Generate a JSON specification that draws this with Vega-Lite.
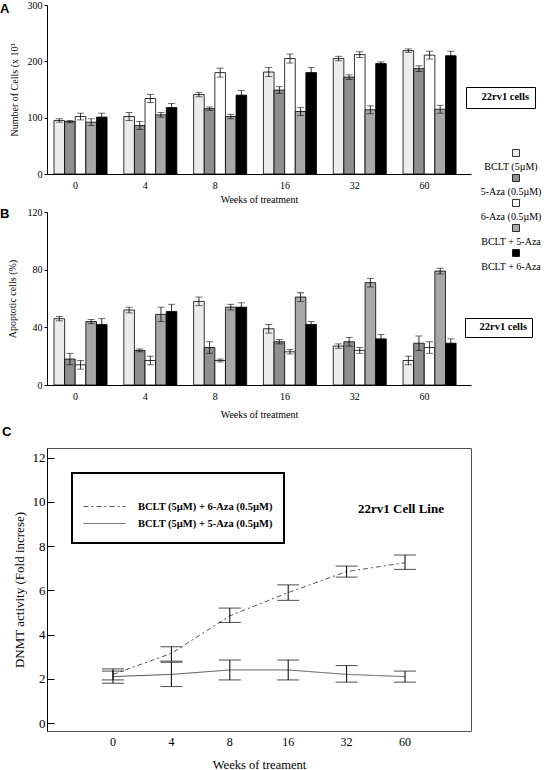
{
  "$schema": "https://vega.github.io/schema/vega-lite/v6.json",
  "background": "white",
  "padding": {"left": 0, "top": 0, "right": 0, "bottom": 0},
  "bounds": "flush",
  "spacing": 0,
  "resolve": {
    "scale": {"fill": "independent", "opacity": "independent", "strokeDash": "independent"},
    "legend": {"fill": "independent", "opacity": "independent", "strokeDash": "independent"}
  },
  "config": {
    "font": "Liberation Serif",
    "view": {"stroke": null},
    "axis": {"labelFont": "Liberation Serif", "titleFont": "Liberation Serif", "labelColor": "black", "titleColor": "black", "titleFontWeight": "normal", "domainColor": "black", "tickColor": "black", "grid": false, "labelFontSize": 10, "titleFontSize": 10}
  },
  "datasets": {
    "cells": [
      {"week": "0", "t": "BCLT (5µM)", "v": 95, "lo": 92, "hi": 98},
      {"week": "0", "t": "5-Aza (0.5µM)", "v": 93, "lo": 91, "hi": 95},
      {"week": "0", "t": "6-Aza (0.5µM)", "v": 102, "lo": 96, "hi": 108},
      {"week": "0", "t": "BCLT + 5-Aza", "v": 92, "lo": 86, "hi": 98},
      {"week": "0", "t": "BCLT + 6-Aza", "v": 101, "lo": 94, "hi": 108},
      {"week": "4", "t": "BCLT (5µM)", "v": 102, "lo": 95, "hi": 109},
      {"week": "4", "t": "5-Aza (0.5µM)", "v": 86, "lo": 79, "hi": 93},
      {"week": "4", "t": "6-Aza (0.5µM)", "v": 134, "lo": 127, "hi": 141},
      {"week": "4", "t": "BCLT + 5-Aza", "v": 105, "lo": 101, "hi": 109},
      {"week": "4", "t": "BCLT + 6-Aza", "v": 118, "lo": 111, "hi": 125},
      {"week": "8", "t": "BCLT (5µM)", "v": 141, "lo": 137, "hi": 145},
      {"week": "8", "t": "5-Aza (0.5µM)", "v": 116, "lo": 113, "hi": 119},
      {"week": "8", "t": "6-Aza (0.5µM)", "v": 180, "lo": 172, "hi": 188},
      {"week": "8", "t": "BCLT + 5-Aza", "v": 102, "lo": 98, "hi": 106},
      {"week": "8", "t": "BCLT + 6-Aza", "v": 140, "lo": 132, "hi": 148},
      {"week": "16", "t": "BCLT (5µM)", "v": 181, "lo": 173, "hi": 189},
      {"week": "16", "t": "5-Aza (0.5µM)", "v": 149, "lo": 143, "hi": 155},
      {"week": "16", "t": "6-Aza (0.5µM)", "v": 205, "lo": 197, "hi": 213},
      {"week": "16", "t": "BCLT + 5-Aza", "v": 111, "lo": 104, "hi": 118},
      {"week": "16", "t": "BCLT + 6-Aza", "v": 180, "lo": 171, "hi": 189},
      {"week": "32", "t": "BCLT (5µM)", "v": 205, "lo": 201, "hi": 209},
      {"week": "32", "t": "5-Aza (0.5µM)", "v": 172, "lo": 168, "hi": 176},
      {"week": "32", "t": "6-Aza (0.5µM)", "v": 212, "lo": 207, "hi": 217},
      {"week": "32", "t": "BCLT + 5-Aza", "v": 114, "lo": 107, "hi": 121},
      {"week": "32", "t": "BCLT + 6-Aza", "v": 196, "lo": 193, "hi": 199},
      {"week": "60", "t": "BCLT (5µM)", "v": 219, "lo": 216, "hi": 222},
      {"week": "60", "t": "5-Aza (0.5µM)", "v": 187, "lo": 182, "hi": 192},
      {"week": "60", "t": "6-Aza (0.5µM)", "v": 211, "lo": 204, "hi": 218},
      {"week": "60", "t": "BCLT + 5-Aza", "v": 115, "lo": 108, "hi": 122},
      {"week": "60", "t": "BCLT + 6-Aza", "v": 210, "lo": 202, "hi": 218}
    ],
    "apop": [
      {"week": "0", "t": "BCLT (5µM)", "v": 46, "lo": 44.5, "hi": 47.5},
      {"week": "0", "t": "5-Aza (0.5µM)", "v": 18, "lo": 14, "hi": 22},
      {"week": "0", "t": "6-Aza (0.5µM)", "v": 14, "lo": 11, "hi": 17},
      {"week": "0", "t": "BCLT + 5-Aza", "v": 44, "lo": 42.5, "hi": 45.5},
      {"week": "0", "t": "BCLT + 6-Aza", "v": 42, "lo": 38, "hi": 46},
      {"week": "4", "t": "BCLT (5µM)", "v": 52, "lo": 50, "hi": 54},
      {"week": "4", "t": "5-Aza (0.5µM)", "v": 24, "lo": 23, "hi": 25},
      {"week": "4", "t": "6-Aza (0.5µM)", "v": 17, "lo": 14, "hi": 20},
      {"week": "4", "t": "BCLT + 5-Aza", "v": 49, "lo": 44, "hi": 54},
      {"week": "4", "t": "BCLT + 6-Aza", "v": 51, "lo": 46, "hi": 56},
      {"week": "8", "t": "BCLT (5µM)", "v": 58, "lo": 55, "hi": 61},
      {"week": "8", "t": "5-Aza (0.5µM)", "v": 26, "lo": 22, "hi": 30},
      {"week": "8", "t": "6-Aza (0.5µM)", "v": 17, "lo": 16, "hi": 18},
      {"week": "8", "t": "BCLT + 5-Aza", "v": 54, "lo": 52, "hi": 56},
      {"week": "8", "t": "BCLT + 6-Aza", "v": 54, "lo": 51, "hi": 57},
      {"week": "16", "t": "BCLT (5µM)", "v": 39, "lo": 36, "hi": 42},
      {"week": "16", "t": "5-Aza (0.5µM)", "v": 30, "lo": 28.5, "hi": 31.5},
      {"week": "16", "t": "6-Aza (0.5µM)", "v": 23, "lo": 21.5, "hi": 24.5},
      {"week": "16", "t": "BCLT + 5-Aza", "v": 61, "lo": 58, "hi": 64},
      {"week": "16", "t": "BCLT + 6-Aza", "v": 42, "lo": 40, "hi": 44},
      {"week": "32", "t": "BCLT (5µM)", "v": 27, "lo": 25.5, "hi": 28.5},
      {"week": "32", "t": "5-Aza (0.5µM)", "v": 30, "lo": 27, "hi": 33},
      {"week": "32", "t": "6-Aza (0.5µM)", "v": 24, "lo": 22, "hi": 26},
      {"week": "32", "t": "BCLT + 5-Aza", "v": 71, "lo": 68, "hi": 74},
      {"week": "32", "t": "BCLT + 6-Aza", "v": 32, "lo": 29, "hi": 35},
      {"week": "60", "t": "BCLT (5µM)", "v": 17, "lo": 14, "hi": 20},
      {"week": "60", "t": "5-Aza (0.5µM)", "v": 29, "lo": 24, "hi": 34},
      {"week": "60", "t": "6-Aza (0.5µM)", "v": 26, "lo": 22, "hi": 30},
      {"week": "60", "t": "BCLT + 5-Aza", "v": 79, "lo": 77, "hi": 81},
      {"week": "60", "t": "BCLT + 6-Aza", "v": 29, "lo": 26, "hi": 32}
    ],
    "dnmt": [
      {"week": "0", "s": "BCLT (5µM) + 6-Aza (0.5µM)", "v": 2.2, "lo": 1.95, "hi": 2.45},
      {"week": "4", "s": "BCLT (5µM) + 6-Aza (0.5µM)", "v": 3.15, "lo": 2.8, "hi": 3.45},
      {"week": "8", "s": "BCLT (5µM) + 6-Aza (0.5µM)", "v": 4.85, "lo": 4.55, "hi": 5.2},
      {"week": "16", "s": "BCLT (5µM) + 6-Aza (0.5µM)", "v": 5.9, "lo": 5.55, "hi": 6.25},
      {"week": "32", "s": "BCLT (5µM) + 6-Aza (0.5µM)", "v": 6.85, "lo": 6.6, "hi": 7.1},
      {"week": "60", "s": "BCLT (5µM) + 6-Aza (0.5µM)", "v": 7.25, "lo": 6.95, "hi": 7.6},
      {"week": "0", "s": "BCLT (5µM) + 5-Aza (0.5µM)", "v": 2.1, "lo": 1.8, "hi": 2.35},
      {"week": "4", "s": "BCLT (5µM) + 5-Aza (0.5µM)", "v": 2.2, "lo": 1.65, "hi": 2.75},
      {"week": "8", "s": "BCLT (5µM) + 5-Aza (0.5µM)", "v": 2.4, "lo": 1.95, "hi": 2.85},
      {"week": "16", "s": "BCLT (5µM) + 5-Aza (0.5µM)", "v": 2.4, "lo": 1.95, "hi": 2.85},
      {"week": "32", "s": "BCLT (5µM) + 5-Aza (0.5µM)", "v": 2.2, "lo": 1.85, "hi": 2.6},
      {"week": "60", "s": "BCLT (5µM) + 5-Aza (0.5µM)", "v": 2.1, "lo": 1.85, "hi": 2.35}
    ],
    "dnmtLabel": [
      {"week": "60", "v": 9.68, "label": "22rv1 Cell Line"}
    ]
  },
  "vconcat": [
    {
      "width": 424,
      "height": 169,
      "title": {"text": "A", "anchor": "start", "frame": "group", "orient": "top", "offset": 0, "dx": -47, "dy": 26, "baseline": "alphabetic", "font": "Liberation Sans", "fontSize": 13, "fontWeight": "bold", "color": "black"},
      "data": {"name": "cells"},
      "encoding": {
        "x": {"field": "week", "type": "nominal", "sort": ["0", "4", "8", "16", "32", "60"],
          "scale": {"paddingInner": 0.24, "paddingOuter": 0.157, "align": 0.32},
          "axis": {"title": "Weeks of treatment", "ticks": false, "labelAngle": 0, "labelPadding": 6, "labelOffset": -5, "titlePadding": 4}},
        "xOffset": {"field": "t", "type": "nominal", "scale": {"domain": ["BCLT (5µM)", "5-Aza (0.5µM)", "6-Aza (0.5µM)", "BCLT + 5-Aza", "BCLT + 6-Aza"], "paddingInner": 0, "paddingOuter": 0}}
      },
      "layer": [
        {
          "mark": {"type": "bar", "stroke": "black", "strokeWidth": 0.8},
          "encoding": {
            "y": {"field": "v", "type": "quantitative", "title": "Number of Cells (x 10³", "scale": {"domain": [0, 300], "nice": false},
              "axis": {"values": [0, 50, 100, 150, 200, 250, 300], "tickSize": 3, "labelPadding": 2, "titlePadding": 8}},
            "fill": {"field": "t", "type": "nominal",
              "scale": {"domain": ["BCLT (5µM)", "5-Aza (0.5µM)", "6-Aza (0.5µM)", "BCLT + 5-Aza", "BCLT + 6-Aza"], "range": ["#ececec", "#8f8f8f", "#ffffff", "#a8a8a8", "#000000"]},
              "legend": {"orient": "none", "legendX": 464, "legendY": 143, "title": null, "symbolType": "square", "symbolSize": 49, "symbolStrokeColor": "black", "symbolStrokeWidth": 0.8, "labelFont": "Liberation Serif", "labelFontSize": 10, "labelColor": "black", "labelAlign": "center", "labelOffset": -10, "labelLimit": 0, "rowPadding": 0, "padding": 0,
                "encode": {"labels": {"update": {"dy": {"value": 14}}}}}},
            "opacity": {"datum": "22rv1 cells", "type": "nominal", "scale": {"range": [1]},
              "legend": {"orient": "none", "legendX": 419, "legendY": 82, "title": null, "symbolSize": 0, "symbolOpacity": 0, "symbolStrokeWidth": 0, "labelOffset": 0, "labelFont": "Liberation Serif", "labelFontWeight": "bold", "labelFontSize": 10.5, "labelColor": "black", "labelLimit": 0, "labelExpr": "'\u00a0\u00a0\u00a0' + datum.label + '\u00a0\u00a0\u00a0'", "strokeColor": "black", "padding": 5}}
          }
        },
        {
          "mark": {"type": "rule", "color": "black", "strokeWidth": 0.8},
          "encoding": {"y": {"field": "lo", "type": "quantitative", "title": "Number of Cells (x 10³"}, "y2": {"field": "hi"}}
        },
        {
          "mark": {"type": "tick", "color": "black", "size": 7, "thickness": 0.8},
          "encoding": {"y": {"field": "lo", "type": "quantitative", "title": "Number of Cells (x 10³"}}
        },
        {
          "mark": {"type": "tick", "color": "black", "size": 7, "thickness": 0.8},
          "encoding": {"y": {"field": "hi", "type": "quantitative", "title": "Number of Cells (x 10³"}}
        }
      ]
    },
    {"width": 424, "height": 38, "data": {"values": []}, "mark": "point"},
    {
      "width": 424,
      "height": 173,
      "title": {"text": "B", "anchor": "start", "frame": "group", "orient": "top", "offset": 0, "dx": -47, "dy": 24, "baseline": "alphabetic", "font": "Liberation Sans", "fontSize": 13, "fontWeight": "bold", "color": "black"},
      "data": {"name": "apop"},
      "encoding": {
        "x": {"field": "week", "type": "nominal", "sort": ["0", "4", "8", "16", "32", "60"],
          "scale": {"paddingInner": 0.24, "paddingOuter": 0.157, "align": 0.32},
          "axis": {"title": "Weeks of treatment", "ticks": false, "labelAngle": 0, "labelPadding": 6, "labelOffset": -5, "titlePadding": 8}},
        "xOffset": {"field": "t", "type": "nominal", "scale": {"domain": ["BCLT (5µM)", "5-Aza (0.5µM)", "6-Aza (0.5µM)", "BCLT + 5-Aza", "BCLT + 6-Aza"], "paddingInner": 0, "paddingOuter": 0}}
      },
      "layer": [
        {
          "mark": {"type": "bar", "stroke": "black", "strokeWidth": 0.8},
          "encoding": {
            "y": {"field": "v", "type": "quantitative", "title": "Apoptotic cells (%)", "scale": {"domain": [0, 120], "nice": false},
              "axis": {"values": [0, 20, 40, 60, 80, 100, 120], "tickSize": 3, "labelPadding": 2, "titlePadding": 10}},
            "fill": {"field": "t", "type": "nominal",
              "scale": {"domain": ["BCLT (5µM)", "5-Aza (0.5µM)", "6-Aza (0.5µM)", "BCLT + 5-Aza", "BCLT + 6-Aza"], "range": ["#ececec", "#8f8f8f", "#ffffff", "#a8a8a8", "#000000"]},
              "legend": null},
            "opacity": {"datum": "22rv1 cells", "type": "nominal", "scale": {"range": [1]},
              "legend": {"orient": "none", "legendX": 418, "legendY": 106, "title": null, "symbolSize": 0, "symbolOpacity": 0, "symbolStrokeWidth": 0, "labelOffset": 0, "labelFont": "Liberation Serif", "labelFontWeight": "bold", "labelFontSize": 10.5, "labelColor": "black", "labelLimit": 0, "labelExpr": "'\u00a0\u00a0\u00a0' + datum.label + '\u00a0\u00a0\u00a0'", "strokeColor": "black", "padding": 4}}
          }
        },
        {
          "mark": {"type": "rule", "color": "black", "strokeWidth": 0.8},
          "encoding": {"y": {"field": "lo", "type": "quantitative", "title": "Apoptotic cells (%)"}, "y2": {"field": "hi"}}
        },
        {
          "mark": {"type": "tick", "color": "black", "size": 7, "thickness": 0.8},
          "encoding": {"y": {"field": "lo", "type": "quantitative", "title": "Apoptotic cells (%)"}}
        },
        {
          "mark": {"type": "tick", "color": "black", "size": 7, "thickness": 0.8},
          "encoding": {"y": {"field": "hi", "type": "quantitative", "title": "Apoptotic cells (%)"}}
        }
      ]
    },
    {"width": 424, "height": 63, "data": {"values": []}, "mark": "point"},
    {
      "width": 424,
      "height": 283,
      "view": {"stroke": "#555", "strokeWidth": 1},
      "title": {"text": "C", "anchor": "start", "frame": "group", "orient": "top", "offset": 0, "dx": -45, "dy": 1, "baseline": "alphabetic", "font": "Liberation Sans", "fontSize": 13, "fontWeight": "bold", "color": "black"},
      "data": {"name": "dnmt"},
      "encoding": {
        "x": {"field": "week", "type": "ordinal", "sort": ["0", "4", "8", "16", "32", "60"],
          "scale": {"type": "band", "paddingInner": 0, "paddingOuter": 0.63},
          "axis": {"title": "Weeks of treament", "ticks": false, "domain": false, "labelAngle": 0, "labelColor": "black", "labelFontSize": 12, "titleFontSize": 12.5, "labelPadding": 5, "titlePadding": 11}}
      },
      "layer": [
        {
          "mark": {"type": "line", "color": "#555", "strokeWidth": 1},
          "encoding": {
            "y": {"field": "v", "type": "quantitative", "title": "DNMT activity (Fold increse)", "scale": {"domain": [-0.36, 12.44], "nice": false, "zero": false},
              "axis": {"values": [0, 1, 2, 3, 4, 5, 6, 7, 8, 9, 10, 11, 12], "labelExpr": "datum.value % 2 === 0 ? datum.label : ''", "tickSize": {"condition": {"test": "datum.value % 2 === 0", "value": -7}, "value": -4}, "labelPadding": 9, "labelFontSize": 13, "titleFontSize": 13, "titlePadding": 6}},
            "strokeDash": {"field": "s", "type": "nominal",
              "scale": {"domain": ["BCLT (5µM) + 6-Aza (0.5µM)", "BCLT (5µM) + 5-Aza (0.5µM)"], "range": [[5, 3, 2, 3], [1, 0]]},
              "legend": {"orient": "none", "legendX": 25, "legendY": 25, "title": " ", "titleFontSize": 10, "titlePadding": 4, "padding": 11, "strokeColor": "black", "symbolType": "stroke", "symbolSize": 1764, "symbolStrokeColor": "#555", "symbolStrokeWidth": 1, "clipHeight": 17, "rowPadding": 0, "labelFont": "Liberation Serif", "labelFontWeight": "bold", "labelFontSize": 10.5, "labelColor": "black", "labelOffset": 12, "labelLimit": 0,
                "encode": {"legend": {"update": {"strokeWidth": {"value": 2}}}}}}
          }
        },
        {
          "mark": {"type": "rule", "color": "black", "strokeWidth": 1},
          "encoding": {"y": {"field": "lo", "type": "quantitative", "title": "DNMT activity (Fold increse)"}, "y2": {"field": "hi"}, "detail": {"field": "s"}}
        },
        {
          "mark": {"type": "tick", "color": "black", "size": 22, "thickness": 1},
          "encoding": {"y": {"field": "lo", "type": "quantitative", "title": "DNMT activity (Fold increse)"}}
        },
        {
          "mark": {"type": "tick", "color": "black", "size": 22, "thickness": 1},
          "encoding": {"y": {"field": "hi", "type": "quantitative", "title": "DNMT activity (Fold increse)"}}
        },
        {
          "data": {"name": "dnmtLabel"},
          "mark": {"type": "text", "font": "Liberation Serif", "fontWeight": "bold", "fontSize": 13, "color": "black", "align": "center", "baseline": "middle", "dx": -4},
          "encoding": {
            "y": {"field": "v", "type": "quantitative", "title": "DNMT activity (Fold increse)"},
            "text": {"field": "label"}
          }
        }
      ]
    }
  ]
}
